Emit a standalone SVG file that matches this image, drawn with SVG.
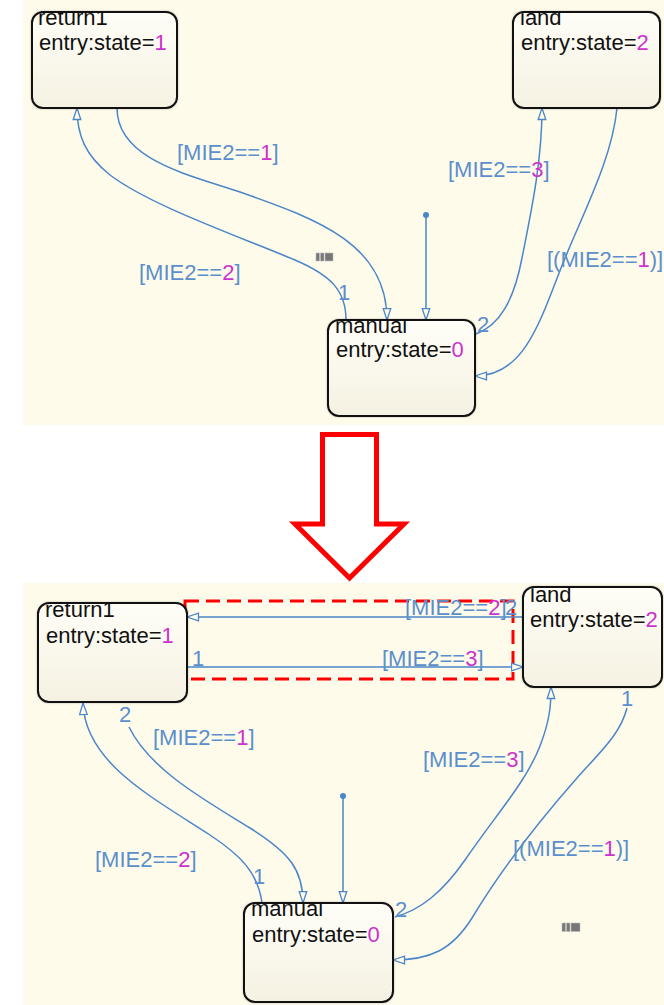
<svg xmlns="http://www.w3.org/2000/svg" width="664" height="1005" viewBox="0 0 664 1005">
  <style>
    .panel { fill: #fffbeb; }
    .box { fill: url(#stateFill); stroke: #111; stroke-width: 2; }
    .shadow { fill: #000; opacity: 0.55; filter: url(#soft); }
    .name, .entry { font-family: "Liberation Sans", Arial, sans-serif; font-size: 22px; fill: #111; }
    .val { fill: #cc33cc; }
    .edge { fill: none; stroke: #4a86c8; stroke-width: 1.5; }
    .tip { marker-end: url(#arrow); }
    .lbl { font-family: "Liberation Sans", Arial, sans-serif; font-size: 22px; fill: #5a8fcc; }
    .chip { fill: #777; stroke: #bbb; stroke-width: 0.6; }
  </style>
  <defs>
    <linearGradient id="stateFill" x1="0" y1="0" x2="0" y2="1">
      <stop offset="0" stop-color="#fffef7"/>
      <stop offset="1" stop-color="#f5f1e2"/>
    </linearGradient>
    <filter id="soft" x="-10%" y="-10%" width="120%" height="120%">
      <feGaussianBlur stdDeviation="1.8"/>
    </filter>
    <marker id="arrow" markerUnits="userSpaceOnUse" viewBox="0 0 14 10" markerWidth="14" markerHeight="10" refX="12.5" refY="5" orient="auto">
      <path d="M1,1.2 L12.5,5 L1,8.8 Z" fill="#fffbeb" stroke="#4a86c8" stroke-width="1.3"/>
    </marker>
    <clipPath id="cTopReturn"><rect x="33" y="13" width="143" height="94" rx="10"/></clipPath>
    <clipPath id="cTopLand"><rect x="514" y="13" width="145" height="94" rx="10"/></clipPath>
    <clipPath id="cTopManual"><rect x="329" y="321" width="145" height="94" rx="10"/></clipPath>
    <clipPath id="cBotReturn"><rect x="39" y="604" width="147" height="97" rx="10"/></clipPath>
    <clipPath id="cBotLand"><rect x="524" y="588" width="137" height="98" rx="10"/></clipPath>
    <clipPath id="cBotManual"><rect x="245" y="904" width="147" height="97" rx="10"/></clipPath>
  </defs>

  <!-- white page -->
  <rect x="0" y="0" width="664" height="1005" fill="#fff"/>

  <!-- chart canvases -->
  <rect class="panel" x="23" y="0" width="641" height="425"/>
  <rect class="panel" x="23" y="583" width="641" height="422"/>

  <!-- big arrow between the two charts -->
  <polygon points="322.5,434.5 376.5,434.5 376.5,524 404,524 349.5,578 295,524 322.5,524" fill="#fff" stroke="#ff0000" stroke-width="5" stroke-linejoin="miter"/>

  <!-- ===== upper chart ===== -->
  <g id="connectors-top">
    <!-- default transition -->
    <circle cx="426" cy="215" r="3" fill="#4a86c8"/>
    <path class="edge tip" d="M426,215 L426,320"/>
    <!-- return1 -> manual -->
    <path class="edge tip" d="M117,108 C117,160 190,175 240,192 C320,220 387,245 387,320"/>
    <!-- manual -> return1 -->
    <path class="edge tip" d="M346,320 C346,290 330,275 295,260 C230,233 150,205 110,175 C85,155 77,135 77,108"/>
    <!-- manual -> land -->
    <path class="edge tip" d="M476,334 C500,325 514,300 522,258 C532,208 542,160 542,108"/>
    <!-- land -> manual -->
    <path class="edge tip" d="M617,108 C612,160 582,215 561,268 C538,328 522,376 475,376"/>
    <text class="lbl" x="177" y="160">[MIE2==<tspan class="val">1</tspan>]</text>
    <text class="lbl" x="139" y="280">[MIE2==<tspan class="val">2</tspan>]</text>
    <text class="lbl" x="448" y="177">[MIE2==<tspan class="val">3</tspan>]</text>
    <text class="lbl" x="547" y="267">[(MIE2==<tspan class="val">1</tspan>)]</text>
    <text class="lbl" x="338" y="300">1</text>
    <text class="lbl" x="477" y="332">2</text>
  </g>

  <g id="top-return1">
    <rect class="shadow" x="32" y="12" width="145" height="96" rx="11"/>
    <rect class="box" x="32" y="12" width="145" height="96" rx="11"/>
    <g clip-path="url(#cTopReturn)">
      <text class="name" x="38" y="25">return1</text>
    </g>
    <text class="entry" x="39" y="50">entry:state=<tspan class="val">1</tspan></text>
  </g>

  <g id="top-land">
    <rect class="shadow" x="513" y="12" width="147" height="96" rx="11"/>
    <rect class="box" x="513" y="12" width="147" height="96" rx="11"/>
    <g clip-path="url(#cTopLand)">
      <text class="name" x="520" y="25">land</text>
    </g>
    <text class="entry" x="521" y="50">entry:state=<tspan class="val">2</tspan></text>
  </g>

  <g id="top-manual">
    <rect class="shadow" x="328" y="320" width="147" height="96" rx="11"/>
    <rect class="box" x="328" y="320" width="147" height="96" rx="11"/>
    <g clip-path="url(#cTopManual)">
      <text class="name" x="335" y="333">manual</text>
    </g>
    <text class="entry" x="336" y="357">entry:state=<tspan class="val">0</tspan></text>
  </g>

  <g id="top-chip">
    <rect class="chip" x="316" y="253" width="3.5" height="8"/>
    <rect class="chip" x="320.5" y="253" width="3.5" height="8"/>
    <rect class="chip" x="325" y="253" width="8" height="8"/>
  </g>

  <!-- ===== lower chart ===== -->
  <!-- highlight around the new direct transitions -->
  <rect x="185" y="601" width="328" height="78" fill="none" stroke="#ff0000" stroke-width="3" stroke-dasharray="14,7"/>

  <g id="connectors-bottom">
    <!-- default transition -->
    <circle cx="343" cy="796" r="3" fill="#4a86c8"/>
    <path class="edge tip" d="M343,796 L343,903"/>
    <!-- land -> return1 -->
    <path class="edge tip" d="M523,617 L187,617"/>
    <!-- return1 -> land -->
    <path class="edge tip" d="M187,667 L523,667"/>
    <!-- return1 -> manual -->
    <path class="edge tip" d="M129,727 C150,770 205,800 250,828 C290,853 303,870 303,903"/>
    <!-- manual -> return1 -->
    <path class="edge tip" d="M262,903 C258,872 240,855 210,835 C150,796 85,762 83,703"/>
    <!-- manual -> land -->
    <path class="edge tip" d="M395,917 C420,910 442,893 465,860 C498,812 526,782 540,746 C550,720 551,705 551,687"/>
    <!-- land -> manual -->
    <path class="edge tip" d="M627,708 C620,735 600,752 577,778 C540,820 502,868 472,918 C452,950 430,960 393,960"/>
    <text class="lbl" x="405" y="615">[MIE2==<tspan class="val">2</tspan>]</text>
    <text class="lbl" x="505" y="615">2</text>
    <text class="lbl" x="382" y="666">[MIE2==<tspan class="val">3</tspan>]</text>
    <text class="lbl" x="192" y="666">1</text>
    <text class="lbl" x="153" y="745">[MIE2==<tspan class="val">1</tspan>]</text>
    <text class="lbl" x="95" y="867">[MIE2==<tspan class="val">2</tspan>]</text>
    <text class="lbl" x="423" y="767">[MIE2==<tspan class="val">3</tspan>]</text>
    <text class="lbl" x="513" y="856">[(MIE2==<tspan class="val">1</tspan>)]</text>
    <text class="lbl" x="119" y="722">2</text>
    <text class="lbl" x="253" y="884">1</text>
    <text class="lbl" x="395" y="917">2</text>
    <text class="lbl" x="621" y="706">1</text>
  </g>

  <g id="bottom-return1">
    <rect class="shadow" x="38" y="603" width="149" height="99" rx="11"/>
    <rect class="box" x="38" y="603" width="149" height="99" rx="11"/>
    <g clip-path="url(#cBotReturn)">
      <text class="name" x="45" y="617">return1</text>
    </g>
    <text class="entry" x="46" y="643">entry:state=<tspan class="val">1</tspan></text>
  </g>

  <g id="bottom-land">
    <rect class="shadow" x="523" y="587" width="139" height="100" rx="11"/>
    <rect class="box" x="523" y="587" width="139" height="100" rx="11"/>
    <g clip-path="url(#cBotLand)">
      <text class="name" x="530" y="602">land</text>
    </g>
    <text class="entry" x="530" y="627">entry:state=<tspan class="val">2</tspan></text>
  </g>

  <g id="bottom-manual">
    <rect class="shadow" x="244" y="903" width="149" height="99" rx="11"/>
    <rect class="box" x="244" y="903" width="149" height="99" rx="11"/>
    <g clip-path="url(#cBotManual)">
      <text class="name" x="251" y="916">manual</text>
    </g>
    <text class="entry" x="252" y="942">entry:state=<tspan class="val">0</tspan></text>
  </g>

  <g id="bottom-chip">
    <rect class="chip" x="562" y="923" width="3.5" height="8.5"/>
    <rect class="chip" x="566.5" y="923" width="3.5" height="8.5"/>
    <rect class="chip" x="571" y="923" width="9" height="8.5"/>
  </g>
</svg>
